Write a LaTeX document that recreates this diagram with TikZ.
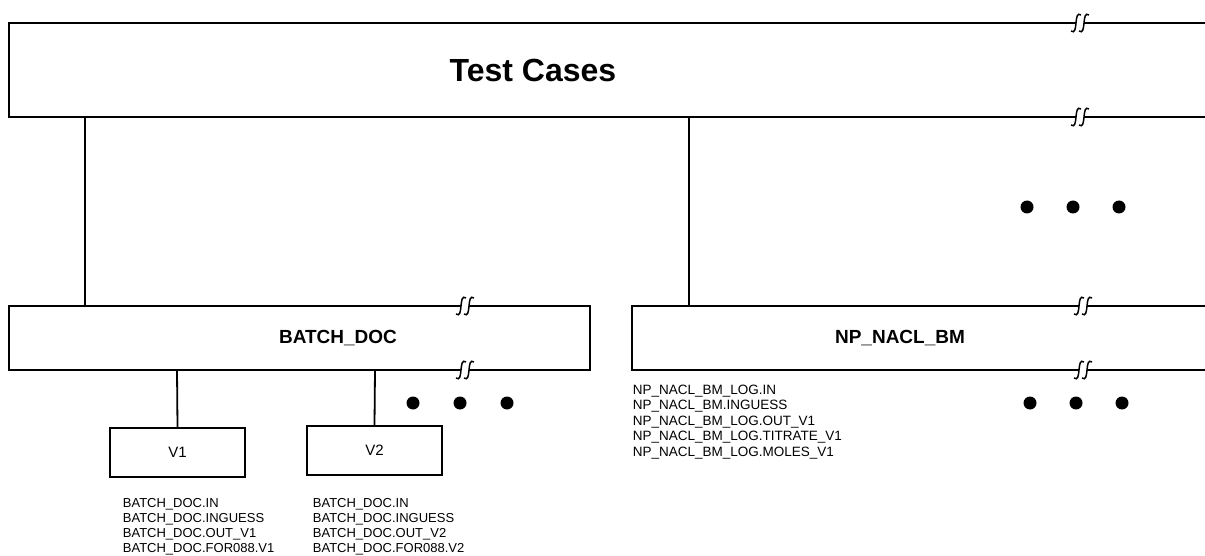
\documentclass[tikz,border=0pt]{standalone}
\usepackage{fontspec}
\setmainfont{Liberation Sans}
\tikzset{
  brk/.pic={
    \draw[line width=1.5pt] (-9,8) .. controls (-5,11) and (-4.5,5) .. (-4,0) .. controls (-3.5,-5) and (-3,-11) .. (1,-8);
    \draw[line width=1.5pt] (-1,8) .. controls (3,11) and (3.5,5) .. (4,0) .. controls (4.5,-5) and (5,-11) .. (9,-8);
  },
  title/.style={font=\bfseries\fontsize{32}{36}\selectfont, inner sep=0pt},
  boxlabel/.style={font=\bfseries\fontsize{19}{21}\selectfont, inner sep=0pt},
  vbox/.style={draw, line width=1.8pt, minimum width=135pt, minimum height=49pt, inner sep=0pt, font=\fontsize{15}{17}\selectfont},
  filelist/.style={align=left, inner sep=0pt, anchor=north west, font=\fontsize{13}{15}\selectfont},
  nplist/.style={align=left, inner sep=0pt, anchor=north west, font=\fontsize{13.5}{15.5}\selectfont},
  dot/.style={circle, fill, inner sep=0pt, minimum size=13pt},
  conn/.style={line width=1.8pt}
}
\begin{document}
\begin{tikzpicture}[x=1pt,y=-1pt,line width=1.8pt]
\useasboundingbox (0,0) rectangle (1205,556);

% ---- Test Cases (open to the right) ----
\draw (1076,23) -- (9,23) -- (9,117) -- (1076,117);
\draw (1084,23) -- (1205,23);
\draw (1084,117) -- (1205,117);
\pic at (1080,23) {brk};
\pic at (1080,117) {brk};
\node[title] (tc) at (533,70) {Test Cases};
\coordinate (tc-a) at (85,117);
\coordinate (tc-b) at (689,117);

% ---- BATCH_DOC box ----
\draw (461,306) -- (9,306) -- (9,370) -- (461,370);
\draw (469,306) -- (590,306) -- (590,370) -- (469,370);
\pic at (465,306) {brk};
\pic at (465,370) {brk};
\node[boxlabel] (bd) at (338,338) {BATCH\_DOC};
\coordinate (bd-t) at (85,306);
\coordinate (bd-b1) at (177,370);
\coordinate (bd-b2) at (375,370);

% ---- NP_NACL_BM box (open to the right) ----
\draw (1079,306) -- (632,306) -- (632,370) -- (1079,370);
\draw (1087,306) -- (1205,306);
\draw (1087,370) -- (1205,370);
\pic at (1083,306) {brk};
\pic at (1083,370) {brk};
\node[boxlabel] (np) at (900,338) {NP\_NACL\_BM};
\coordinate (np-t) at (689,306);

% ---- version boxes ----
\node[vbox] (v1) at (177.5,452.5) {V1};
\node[vbox] (v2) at (374.5,450.5) {V2};

% ---- connectors ----
\draw[conn] (tc-a) -- (bd-t);
\draw[conn] (tc-b) -- (np-t);
\draw[conn] (bd-b1) -- (v1.north);
\draw[conn] (bd-b2) -- (v2.north);

% ---- dots ----
\node[dot] (d1) at (1027,207) {};
\node[dot] (d2) at (1073,207) {};
\node[dot] (d3) at (1119,207) {};
\node[dot] (d4) at (413,403) {};
\node[dot] (d5) at (460,403) {};
\node[dot] (d6) at (507,403) {};
\node[dot] (d7) at (1030,403) {};
\node[dot] (d8) at (1076,403) {};
\node[dot] (d9) at (1122,403) {};

% ---- file lists ----
\node[filelist] (l1) at (122,497.5) {BATCH\_DOC.IN\\BATCH\_DOC.INGUESS\\BATCH\_DOC.OUT\_V1\\BATCH\_DOC.FOR088.V1};
\node[filelist] (l2) at (312,497.5) {BATCH\_DOC.IN\\BATCH\_DOC.INGUESS\\BATCH\_DOC.OUT\_V2\\BATCH\_DOC.FOR088.V2};
\node[nplist] (l3) at (632,384) {NP\_NACL\_BM\_LOG.IN\\NP\_NACL\_BM.INGUESS\\NP\_NACL\_BM\_LOG.OUT\_V1\\NP\_NACL\_BM\_LOG.TITRATE\_V1\\NP\_NACL\_BM\_LOG.MOLES\_V1};
\end{tikzpicture}
\end{document}
